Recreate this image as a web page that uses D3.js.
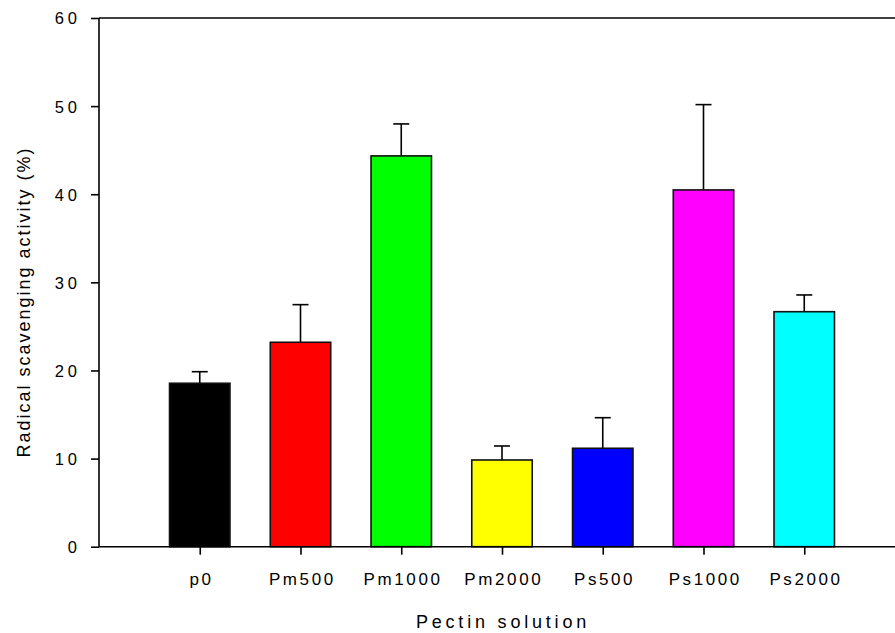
<!DOCTYPE html>
<html>
<head>
<meta charset="utf-8">
<script src="https://cdn.jsdelivr.net/npm/d3@7"></script>
<style>
  html, body { margin: 0; padding: 0; background: #fff; }
  svg { display: block; }
  text { font-family: "Liberation Sans", Arial, sans-serif; fill: #000; }
</style>
</head>
<body>
<svg id="chart" width="895" height="633"></svg>
<script>
// Pectin solutions and their radical scavenging activity (mean and SD, %)
const categories = ["p0", "Pm500", "Pm1000", "Pm2000", "Ps500", "Ps1000", "Ps2000"];
const means = [18.55, 23.2, 44.35, 9.84, 11.17, 40.49, 26.67];
const errors = [1.31, 4.27, 3.63, 1.59, 3.47, 9.68, 1.9];
const colors = ["#000000", "#ff0000", "#00ff00", "#ffff00", "#0000ff", "#ff00ff", "#00ffff"];
const yTicks = [0, 10, 20, 30, 40, 50, 60];

const svg = d3.select("#chart");
const plotLeft = 99, plotRight = 905, plotTop = 18, plotBottom = 546.7;

const x = d3.scalePoint().domain(categories).range([plotLeft, plotRight]).padding(1);
const y = d3.scaleLinear().domain([0, 60]).range([plotBottom, plotTop]);
const barW = x.step() * 0.6;

const rows = categories.map((c, i) => ({ c, m: means[i], e: errors[i], col: colors[i] }));

// error bars (upper side only), drawn behind the bars
const err = svg.append("g").attr("stroke", "#000").attr("stroke-width", 1.6);
err.selectAll("line.v").data(rows).join("line")
  .attr("class", "v")
  .attr("x1", d => x(d.c)).attr("x2", d => x(d.c))
  .attr("y1", d => y(d.m)).attr("y2", d => y(d.m + d.e));
err.selectAll("line.cap").data(rows).join("line")
  .attr("class", "cap")
  .attr("x1", d => x(d.c) - 8).attr("x2", d => x(d.c) + 8)
  .attr("y1", d => y(d.m + d.e)).attr("y2", d => y(d.m + d.e));

// bars
svg.append("g").selectAll("rect").data(rows).join("rect")
  .attr("x", d => x(d.c) - barW / 2)
  .attr("width", barW)
  .attr("y", d => y(d.m))
  .attr("height", d => y(0) - y(d.m))
  .attr("fill", d => d.col)
  .attr("stroke", "#111")
  .attr("stroke-width", 1.6);

// frame: top line
svg.append("line").attr("x1", plotLeft).attr("x2", plotRight)
  .attr("y1", y(60)).attr("y2", y(60))
  .attr("stroke", "#000").attr("stroke-width", 1.6);

// y axis
const yAxis = svg.append("g").attr("transform", `translate(${plotLeft},0)`)
  .call(d3.axisLeft(y).tickValues(yTicks).tickSize(8).tickPadding(10).tickFormat(d3.format("d")));
yAxis.select(".domain").attr("stroke-width", 1.6).attr("d", `M0,${y(0)}V${y(60)}`);
yAxis.selectAll(".tick line").attr("stroke-width", 1.6);
yAxis.selectAll(".tick text")
  .attr("font-size", 16.5).attr("letter-spacing", "4px")
  .attr("font-family", "Liberation Sans, Arial, sans-serif")
  .attr("dy", "0.36em");

// x axis
const xAxis = svg.append("g").attr("transform", `translate(0,${plotBottom})`)
  .call(d3.axisBottom(x).tickSize(8).tickPadding(18));
xAxis.select(".domain").attr("stroke-width", 1.6).attr("d", `M${plotLeft},0H${plotRight}`);
xAxis.selectAll(".tick line").attr("stroke-width", 1.6);
xAxis.selectAll(".tick text")
  .attr("font-size", 17).attr("letter-spacing", "2.6px")
  .attr("font-family", "Liberation Sans, Arial, sans-serif")
  .attr("dx", "1.3");

// axis titles
svg.append("text")
  .attr("x", (plotLeft + plotRight) / 2 + 1).attr("y", 628)
  .attr("text-anchor", "middle")
  .attr("font-size", 18).attr("letter-spacing", "3.8px")
  .text("Pectin solution");

svg.append("text")
  .attr("transform", `translate(30,${302}) rotate(-90)`)
  .attr("text-anchor", "middle")
  .attr("font-size", 18).attr("letter-spacing", "2px")
  .text("Radical scavenging activity (%)");
</script>
</body>
</html>
